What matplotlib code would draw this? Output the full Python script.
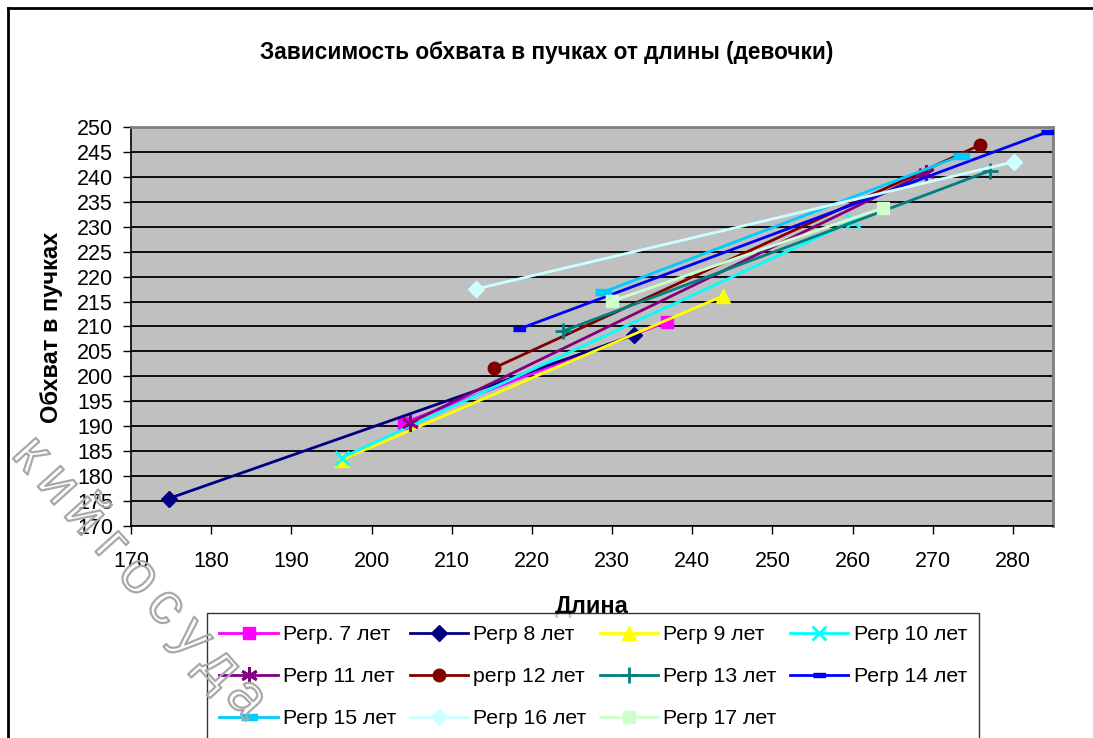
import matplotlib
matplotlib.use("Agg")
import matplotlib.pyplot as plt
from matplotlib.lines import Line2D
import matplotlib.patheffects as pe

plt.rcParams['font.family'] = ['Liberation Sans', 'DejaVu Sans']

# Regression lines: two end points for each age group (length, girth)
labels = ["Регр. 7 лет", "Регр 8 лет", "Регр 9 лет", "Регр 10 лет",
          "Регр 11 лет", "регр 12 лет", "Регр 13 лет", "Регр 14 лет",
          "Регр 15 лет", "Регр 16 лет", "Регр 17 лет"]
x_start = [204.0, 174.7, 196.3, 196.3, 204.8, 215.3, 223.9, 218.4, 228.9, 213.0, 230.0]
x_end   = [236.8, 232.8, 243.8, 260.1, 269.1, 275.9, 277.1, 284.3, 273.5, 280.1, 263.8]
y_start = [190.7, 175.5, 183.3, 183.7, 190.7, 201.7, 209.1, 209.5, 216.9, 217.5, 215.1]
y_end   = [210.9, 208.3, 216.1, 231.2, 240.8, 246.4, 241.2, 249.0, 244.2, 243.0, 233.8]

colors = ["#ff00ff", "#000080", "#ffff00", "#00ffff", "#800080", "#800000",
          "#008080", "#0000ff", "#00ccff", "#ccffff", "#ccffcc"]
bar = [(-1, -0.4), (1, -0.4), (1, 0.4), (-1, 0.4)]  # flat dash marker
markers = ["s", "D", "^", "x", (6, 2, 0), "o", "+", bar, bar, "D", "s"]
msizes = [9, 8, 10, 10, 12, 9, 12, 8, 12, 8, 9]

watermark = "кийгосуда"

fig = plt.figure(figsize=(10.93, 7.38), dpi=100)
ax = fig.add_axes([131 / 1093, 1 - 526 / 738, 922 / 1093, 399 / 738])
ax.set_facecolor("#c0c0c0")

handles = []
for i in range(len(labels)):
    xs = [x_start[i], x_end[i]]
    ys = [y_start[i], y_end[i]]
    mk = markers[i]
    mew = 2 if mk in ("x", "+") or isinstance(mk, tuple) else 1
    h, = ax.plot(xs, ys, color=colors[i], lw=2, marker=mk, markersize=msizes[i],
                 markeredgewidth=mew, markeredgecolor=colors[i],
                 markerfacecolor=colors[i], label=labels[i], zorder=3)
    handles.append(h)

ax.set_xlim(170, 285)
ax.set_ylim(170, 250)
ax.set_xticks(range(170, 281, 10))
ax.set_yticks(range(170, 251, 5))
ax.yaxis.grid(True, color="black", lw=1.3)
ax.set_axisbelow(True)
ax.tick_params(direction="out", length=6, width=1, labelsize=15.5, color="black")
ax.tick_params(axis="x", pad=12)
ax.tick_params(axis="y", pad=7)
for s in ["top", "right"]:
    ax.spines[s].set_color("#808080")
    ax.spines[s].set_linewidth(2)
for s in ["left", "bottom"]:
    ax.spines[s].set_color("black")
    ax.spines[s].set_linewidth(1.2)

fig.text(0.5, 1 - 52 / 738, "Зависимость обхвата в пучках от длины (девочки)",
         ha="center", va="center", fontsize=16.3, fontweight="bold")
fig.text(52 / 1093, 1 - 327 / 738, "Обхват в пучках", rotation=90,
         ha="center", va="center", fontsize=17, fontweight="bold")
fig.text(592 / 1093, 1 - 606 / 738, "Длина", ha="center", va="center",
         fontsize=17, fontweight="bold")

# legend is filled row by row in the original; matplotlib fills by column
order = [0, 4, 8, 1, 5, 9, 2, 6, 10, 3, 7]
leg = fig.legend(handles=[handles[k] for k in order], ncol=4, loc="upper left",
                 bbox_to_anchor=(207 / 1093, 1 - 613 / 738),
                 fontsize=15.3, frameon=True, fancybox=False,
                 edgecolor="black", handlelength=2.75, columnspacing=0.62,
                 handletextpad=0.25, borderpad=0.58, labelspacing=1.08,
                 borderaxespad=0)
leg.get_frame().set_linewidth(1)
leg.set_zorder(5)

# outer chart border
fig.add_artist(Line2D([8 / 1093, 1], [1 - 8 / 738, 1 - 8 / 738],
                      color="black", lw=2, transform=fig.transFigure))
fig.add_artist(Line2D([8 / 1093, 8 / 1093], [0, 1 - 8 / 738],
                      color="black", lw=2, transform=fig.transFigure))

# scanned-page watermark, outlined letters on a diagonal
x0, y0, dx, dy = 30, 455, 27.0, 30.5
for k, ch in enumerate(watermark):
    fig.text((x0 + k * dx) / 1093, 1 - (y0 + k * dy) / 738, ch, rotation=-48,
             ha="center", va="center", fontsize=42, color="none", zorder=6,
             path_effects=[pe.Stroke(linewidth=1.6, foreground="#a8a8a8")])

fig.savefig("out.png", dpi=100)
